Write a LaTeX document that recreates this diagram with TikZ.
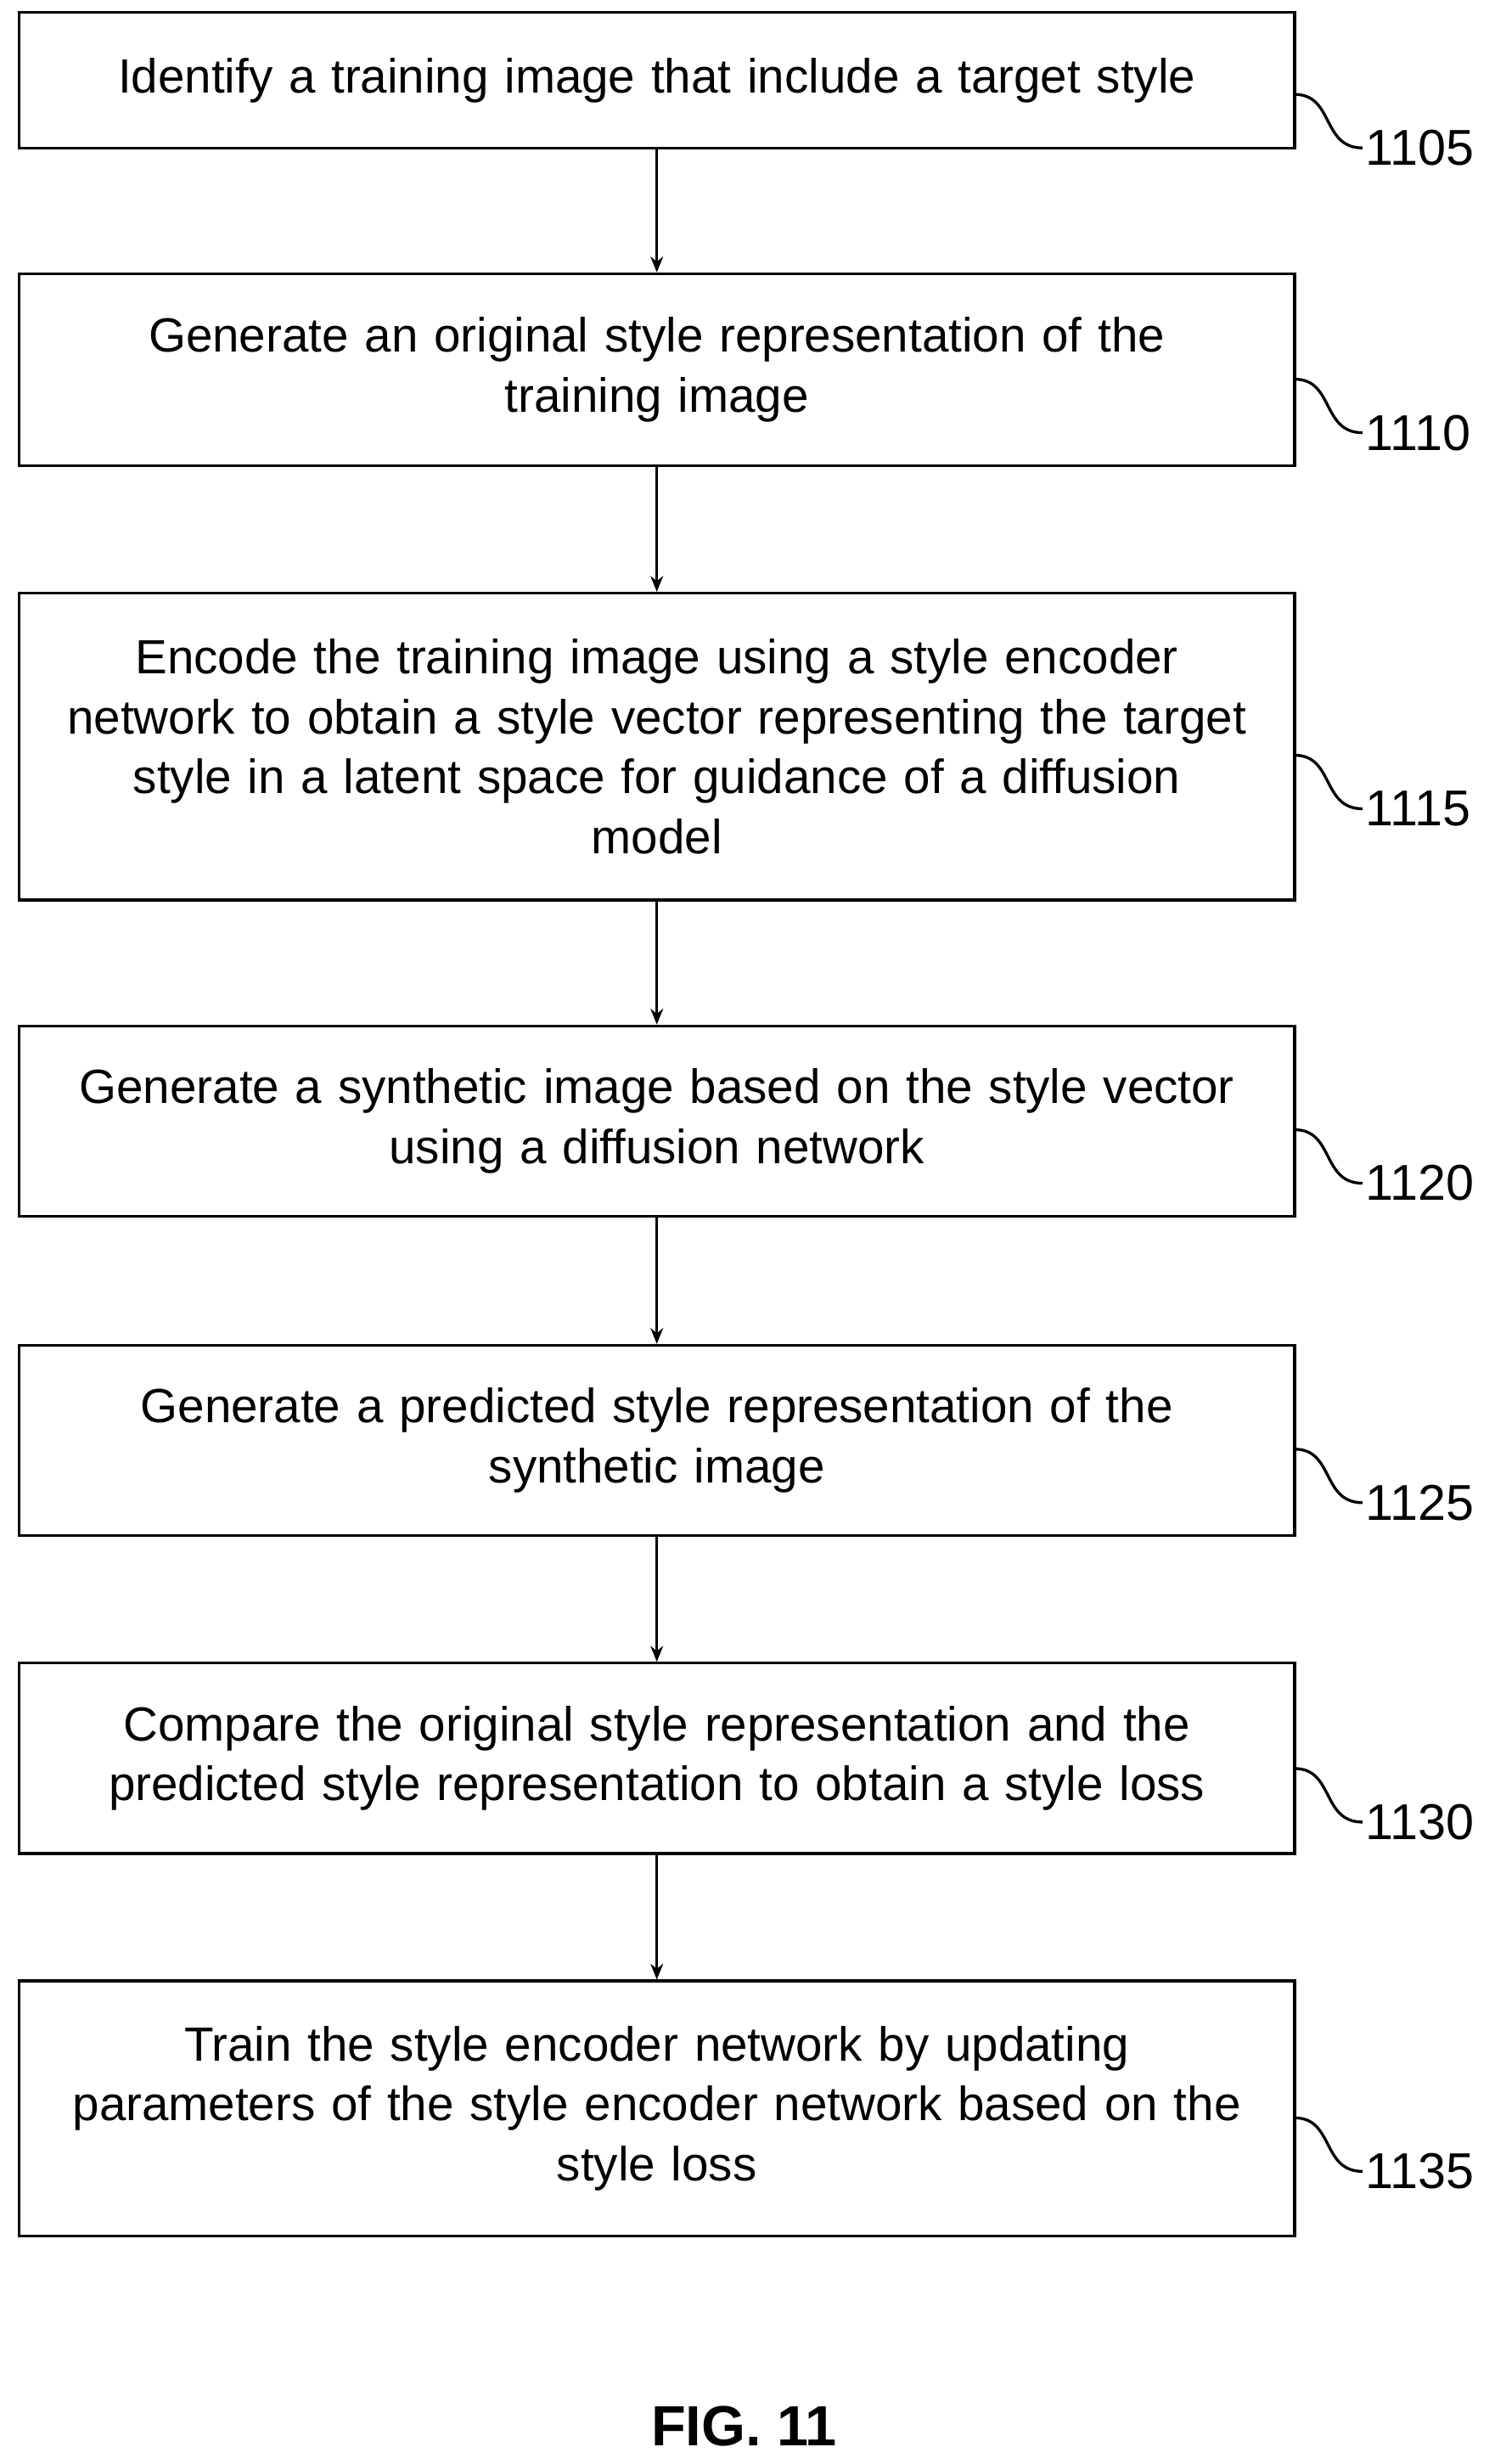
\documentclass[tikz,border=0pt]{standalone}
\usepackage{fontspec}
\setmainfont{Liberation Sans}
\usetikzlibrary{arrows.meta}
\begin{document}
\begin{tikzpicture}[x=1pt,y=-1pt,
 box/.style={draw,line width=1.8pt,minimum width=811pt,text width=800pt,align=center,inner sep=0pt,font=\fontsize{30.5}{38}\selectfont},
 arr/.style={-{Stealth[length=10pt,width=8pt]},line width=1.8pt},
 sq/.style={line width=1.8pt},
 lab/.style={font=\fontsize{32}{34}\selectfont,anchor=west,inner sep=2pt}]
\useasboundingbox (0,0) rectangle (950,1566);
\def\B#1#2#3#4{\node[box,minimum height=#3pt] (#1) at (417.5,#2) {#4};}
\B{b1}{51}{86}{Identify a training image that include a target style}
\B{b2}{235}{122}{Generate an original style representation of the\\training image}
\B{b3}{474.5}{195}{Encode the training image using a style encoder\\network to obtain a style vector representing the target\\style in a latent space for guidance of a diffusion\\model}
\B{b4}{712.5}{121}{Generate a synthetic image based on the style vector\\using a diffusion network}
\B{b5}{915.5}{121}{Generate a predicted style representation of the\\synthetic image}
\B{b6}{1117.5}{121}{Compare the original style representation and the\\predicted style representation to obtain a style loss}
\B{b7}{1340}{162}{Train the style encoder network by updating\\parameters of the style encoder network based on the\\style loss}
\foreach \a/\b in {b1/b2,b2/b3,b3/b4,b4/b5,b5/b6,b6/b7} \draw[arr] (\a.south) -- (\b.north);
\foreach \n/\y/\t in {b1/94/1105,b2/275/1110,b3/514/1115,b4/752/1120,b5/955/1125,b6/1158/1130,b7/1380/1135}{
 \node[lab] (l\t) at (866,\y) {\t};
 \coordinate (s\t) at (823,\y-34);
 \draw[sq] (s\t) .. controls (848,\y-34) and (840,\y) .. (l\t.west);
}
\node[font=\bfseries\fontsize{36}{40}\selectfont] (fig) at (473,1542) {FIG. 11};
\end{tikzpicture}
\end{document}
